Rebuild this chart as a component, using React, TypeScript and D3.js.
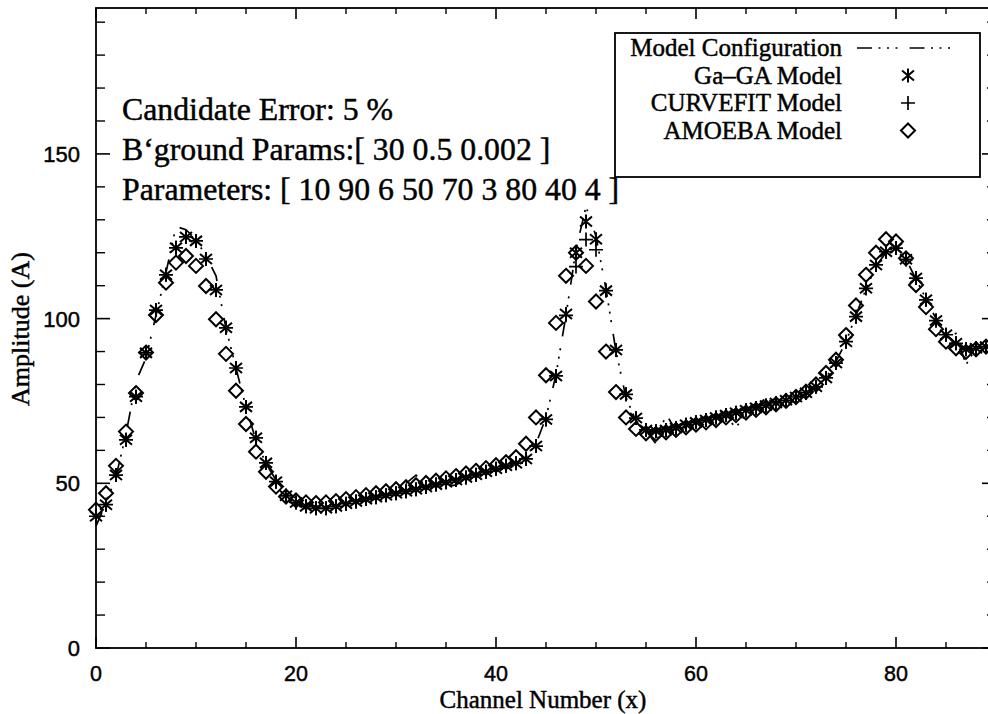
import React from 'react';
import * as d3 from 'd3';

const W = 988;
const H = 714;

const channels = d3.range(0, 90);

const modelConfig = [
  37, 44, 52, 65, 81, 88, 101, 114, 128, 127,
  124, 119, 113, 97, 85, 73, 63, 56, 51, 47,
  45.5, 44, 43, 43, 43.5, 44, 44.5, 45, 45.5, 46.5,
  47.5, 50, 52.5, 49, 49.5, 49, 49.5, 51.5, 52.5, 53,
  54, 55, 56, 58, 62, 70, 83, 101, 121, 134,
  125, 109, 90, 76, 69, 66, 62, 71, 66, 67,
  68, 69, 70, 70, 67, 71, 73, 76, 74, 75,
  76, 77, 79, 82, 87, 93, 101, 109, 116, 120,
  122, 118, 112, 106, 100, 94, 95.5, 86, 91, 91,
];

const gaga = [
  40, 43.5, 52.5, 63.2, 76.3, 89.6, 102.6, 113.3, 121.5, 124.8,
  123.6, 118.1, 108.7, 97.2, 85, 73.2, 63.8, 56.2, 50.5, 46.2,
  44.2, 43, 42.4, 42.4, 43, 43.8, 44.5, 45.2, 45.8, 46.4,
  47, 47.6, 48.2, 48.9, 49.6, 50.3, 51, 51.8, 52.6, 53.5,
  54.4, 55.3, 56.1, 57.4, 61.3, 69.4, 82.6, 101.4, 120, 129.5,
  124.1, 108.5, 90.5, 77, 69.8, 66.2, 65.8, 66.2, 66.8, 67.8,
  68.5, 69.2, 70, 70.7, 71.4, 72.2, 72.9, 73.6, 74.4, 75.2,
  76.2, 77.5, 79.3, 82, 86.5, 93, 100.6, 109.2, 116.3, 120.3,
  121.4, 118, 112.3, 105.7, 99.4, 95.1, 92.5, 90.7, 91, 91.5,
];

const curvefit = [
  40, 43.5, 52.5, 63.2, 76.3, 89.6, 102.6, 113.3, 121.5, 124.8,
  123.6, 118.1, 108.7, 97.2, 85, 73.2, 63.8, 56.2, 50.5, 46.2,
  44.2, 43, 42.4, 42.4, 43, 43.8, 44.5, 45.2, 45.8, 46.4,
  47, 47.6, 48.2, 48.9, 49.6, 50.3, 51, 51.8, 52.6, 53.5,
  54.4, 55.3, 56.1, 57.4, 61.3, 69.4, 82.6, 101, 115.8, 124,
  120.9, 108.5, 90.5, 77, 69.8, 66.2, 65.8, 66.2, 66.8, 67.8,
  68.5, 69.2, 70, 70.7, 71.4, 72.2, 72.9, 73.6, 74.4, 75.2,
  76.2, 77.5, 79.3, 82, 86.5, 93, 100.6, 109.2, 116.3, 120.3,
  121.4, 118, 112.3, 105.7, 99.4, 95.1, 92.5, 90.7, 91, 91.5,
];

const amoeba = [
  42, 47, 55.3, 65.7, 77.4, 89.7, 101.1, 110.9, 117, 119,
  116, 109.9, 99.8, 89.3, 78.1, 68, 59.6, 53.5, 49, 46,
  44.8, 44.2, 44, 44.2, 44.6, 45.2, 45.8, 46.4, 47, 47.6,
  48.2, 48.8, 49.4, 50.1, 50.8, 51.5, 52.2, 53, 53.8, 54.6,
  55.5, 56.4, 57.9, 62, 70, 82.8, 98.7, 113, 120, 116,
  105.2, 90, 77.7, 70, 66.5, 65.2, 65, 65.5, 66.2, 67,
  67.8, 68.5, 69.2, 70, 70.7, 71.5, 72.3, 73.1, 74, 75,
  76.2, 77.8, 80, 83.5, 87.5, 95, 104, 113.3, 120, 124.1,
  123.4, 118.3, 110.2, 103.5, 96.8, 93, 91, 89.9, 90.7, 91.5,
];

const xTicks = [0, 20, 40, 60, 80];
const xMinor = [5, 10, 15, 25, 30, 35, 45, 50, 55, 65, 70, 75, 85];
const yTicks = [0, 50, 100, 150];
const yMinor = [10, 20, 30, 40, 60, 70, 80, 90, 110, 120, 130, 140, 160, 170, 180, 190];

const annotations = [
  'Candidate Error: 5 %',
  'B‘ground Params:[ 30 0.5 0.002 ]',
  'Parameters: [ 10 90 6 50 70 3 80 40 4 ]',
];
const legendLabels = ['Model Configuration', 'Ga–GA Model', 'CURVEFIT Model', 'AMOEBA Model'];

const DASH = '15 6.5 2 6.5 2 6.5 2 12';
const SERIF = '"Liberation Serif", "Times New Roman", serif';
const SANS = '"Liberation Sans", Arial, sans-serif';

function asterisk(cx: number, cy: number) {
  return `M${cx},${cy - 7}L${cx},${cy + 7}M${cx - 6},${cy - 5}L${cx + 6},${cy + 5}M${cx - 6},${cy + 5}L${cx + 6},${cy - 5}`;
}
function plus(cx: number, cy: number) {
  return `M${cx - 7},${cy}L${cx + 7},${cy}M${cx},${cy - 7}L${cx},${cy + 7}`;
}
function diamond(cx: number, cy: number) {
  return `M${cx},${cy - 7}L${cx + 7},${cy}L${cx},${cy + 7}L${cx - 7},${cy}Z`;
}

const textStroke = { stroke: '#000', strokeWidth: 0.45 };

export default function App() {
  const x = d3.scaleLinear().domain([0, 90]).range([96, 996]);
  const y = d3.scaleLinear().domain([0, 194.3]).range([648, 8]);
  const line = d3
    .line<number>()
    .x((_, i) => x(channels[i]))
    .y((d) => y(d));

  const left = x(0);
  const right = x(90);
  const top = y(194.3);
  const bottom = y(0);

  const legendX = 615;
  const legendY = 33;
  const rowBase = [56, 83.5, 111, 138.5];

  return (
    <svg
      width={W}
      height={H}
      viewBox={`0 0 ${W} ${H}`}
      style={{ position: 'absolute', left: 0, top: 0, background: '#fff' }}
    >
      <rect x={0} y={0} width={W} height={H} fill="#fff" />
      <rect x={left} y={top} width={right - left} height={bottom - top} fill="none" stroke="#000" strokeWidth={1.8} />
      {xTicks.map((t) => (
        <g key={'xt' + t}>
          <line x1={x(t)} x2={x(t)} y1={bottom} y2={bottom - 11} stroke="#000" strokeWidth={1.6} />
          <line x1={x(t)} x2={x(t)} y1={top} y2={top + 11} stroke="#000" strokeWidth={1.6} />
          <text x={x(t)} y={681} textAnchor="middle" fontFamily={SANS} fontSize={21.5} {...textStroke}>
            {t}
          </text>
        </g>
      ))}
      {xMinor.map((t) => (
        <g key={'xm' + t}>
          <line x1={x(t)} x2={x(t)} y1={bottom} y2={bottom - 6} stroke="#000" strokeWidth={1.4} />
          <line x1={x(t)} x2={x(t)} y1={top} y2={top + 6} stroke="#000" strokeWidth={1.4} />
        </g>
      ))}
      {yTicks.map((t) => (
        <g key={'yt' + t}>
          <line x1={left} x2={left + 14} y1={y(t)} y2={y(t)} stroke="#000" strokeWidth={1.6} />
          <line x1={right} x2={right - 14} y1={y(t)} y2={y(t)} stroke="#000" strokeWidth={1.6} />
          <text x={80} y={y(t) + 8} textAnchor="end" fontFamily={SANS} fontSize={22} {...textStroke}>
            {t}
          </text>
        </g>
      ))}
      {yMinor.map((t) => (
        <g key={'ym' + t}>
          <line x1={left} x2={left + 9} y1={y(t)} y2={y(t)} stroke="#000" strokeWidth={1.4} />
          <line x1={right} x2={right - 9} y1={y(t)} y2={y(t)} stroke="#000" strokeWidth={1.4} />
        </g>
      ))}
      <text x={543} y={708} textAnchor="middle" fontFamily={SERIF} fontSize={25} {...textStroke}>
        Channel Number (x)
      </text>
      <text
        transform={`translate(29, 329) rotate(-90)`}
        textAnchor="middle"
        fontFamily={SERIF}
        fontSize={26}
        {...textStroke}
      >
        Amplitude (A)
      </text>
      {annotations.map((a, i) => (
        <text key={'an' + i} x={122} y={120 + i * 40} fontFamily={SERIF} fontSize={31.8} {...textStroke}>
          {a}
        </text>
      ))}
      <path d={line(modelConfig) || ''} fill="none" stroke="#000" strokeWidth={1.7} strokeDasharray={DASH} />
      {gaga.map((v, i) => (
        <path key={'g' + i} d={asterisk(x(channels[i]), y(v))} stroke="#000" strokeWidth={2} fill="none" />
      ))}
      {curvefit.map((v, i) => (
        <path key={'c' + i} d={plus(x(channels[i]), y(v))} stroke="#000" strokeWidth={1.7} fill="none" />
      ))}
      {amoeba.map((v, i) => (
        <path key={'a' + i} d={diamond(x(channels[i]), y(v))} stroke="#000" strokeWidth={2} fill="none" />
      ))}
      <rect x={legendX} y={legendY} width={365} height={144} fill="#fff" stroke="#000" strokeWidth={1.8} />
      {legendLabels.map((l, i) => (
        <text key={'l' + i} x={842} y={rowBase[i]} textAnchor="end" fontFamily={SERIF} fontSize={25} {...textStroke}>
          {l}
        </text>
      ))}
      <line x1={857} x2={957} y1={rowBase[0] - 8} y2={rowBase[0] - 8} stroke="#000" strokeWidth={1.7} strokeDasharray={DASH} />
      <path d={asterisk(908, rowBase[1] - 8)} stroke="#000" strokeWidth={2} fill="none" />
      <path d={plus(908, rowBase[2] - 8)} stroke="#000" strokeWidth={1.7} fill="none" />
      <path d={diamond(908, rowBase[3] - 8)} stroke="#000" strokeWidth={2} fill="none" />
    </svg>
  );
}
